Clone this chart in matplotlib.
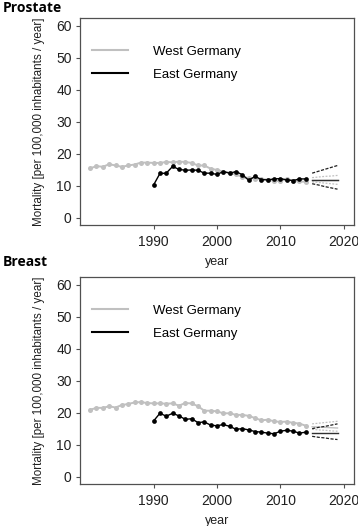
import matplotlib
matplotlib.use("Agg")
import matplotlib.pyplot as plt
from matplotlib.lines import Line2D
import numpy as np

plt.rcParams['font.family'] = ['Liberation Sans', 'DejaVu Sans']

years_west = list(range(1980, 2015))
years_east = list(range(1990, 2015))
years_proj = list(range(2015, 2020))

prostate_west = [15.4, 16.1, 15.9, 16.7, 16.3, 15.9, 16.3, 16.6, 17.2, 17.2,
                 17.1, 17.1, 17.4, 17.3, 17.5, 17.4, 17.1, 16.3, 16.3, 15.3,
                 14.9, 14.4, 14.0, 13.5, 12.7, 12.4, 12.2, 12.0, 11.9, 11.5,
                 11.4, 12.1, 11.5, 11.3, 11.2]
prostate_east = [10.2, 13.8, 13.9, 16.0, 15.1, 14.8, 14.9, 14.8, 13.9, 13.9,
                 13.5, 14.4, 13.9, 14.4, 13.4, 11.7, 12.9, 11.9, 11.8, 12.1,
                 12.2, 11.8, 11.6, 12.1, 12.1]
prostate_west_proj = [11.8, 11.8, 11.8, 11.8, 11.8]
prostate_west_lo = [11.2, 11.0, 10.8, 10.6, 10.4]
prostate_west_hi = [12.5, 12.7, 12.9, 13.0, 13.2]
prostate_east_proj = [11.9, 11.9, 11.9, 11.9, 11.9]
prostate_east_lo = [10.6, 10.2, 9.7, 9.3, 8.9]
prostate_east_hi = [13.9, 14.5, 15.1, 15.7, 16.3]

breast_west = [20.9, 21.5, 21.5, 22.0, 21.6, 22.4, 22.7, 23.2, 23.3, 23.0,
               22.9, 22.9, 22.8, 22.9, 22.2, 23.0, 22.9, 22.0, 20.6, 20.6,
               20.4, 19.8, 19.8, 19.3, 19.3, 19.0, 18.3, 17.6, 17.8, 17.3,
               17.1, 17.2, 16.8, 16.6, 15.9]
breast_east = [17.4, 19.8, 18.9, 19.8, 19.0, 17.9, 18.1, 16.9, 17.1, 16.1,
               15.9, 16.3, 15.7, 14.8, 15.0, 14.6, 14.1, 13.9, 13.6, 13.4,
               14.2, 14.5, 14.2, 13.6, 13.9]
breast_west_proj = [15.6, 15.5, 15.4, 15.3, 15.2]
breast_west_lo = [14.8, 14.6, 14.5, 14.3, 14.2]
breast_west_hi = [16.5, 16.7, 16.9, 17.1, 17.3]
breast_east_proj = [13.75, 13.75, 13.75, 13.75, 13.75]
breast_east_lo = [12.6, 12.3, 12.1, 11.8, 11.6]
breast_east_hi = [15.0, 15.4, 15.7, 16.1, 16.5]

panels = [
    ("Prostate", prostate_west, prostate_east, prostate_west_proj, prostate_west_lo,
     prostate_west_hi, prostate_east_proj, prostate_east_lo, prostate_east_hi),
    ("Breast", breast_west, breast_east, breast_west_proj, breast_west_lo,
     breast_west_hi, breast_east_proj, breast_east_lo, breast_east_hi),
]

legend_labels = ["West Germany", "East Germany"]
yticks = [0, 10, 20, 30, 40, 50, 60]
xticks = [1990, 2000, 2010, 2020]

W, H = 358, 526
fig = plt.figure(figsize=(W / 100, H / 100), dpi=100)

axes_px = [(80, 18, 354, 225), (80, 277, 354, 484)]
title_y = [8, 262]

gray = "#c0c0c0"
frame = "#505050"

for (name, w, e, wp, wlo, whi, ep, elo, ehi), (l, t, r, b), ty in zip(panels, axes_px, title_y):
    ax = fig.add_axes([l / W, 1 - b / H, (r - l) / W, (b - t) / H])
    ax.plot(years_west, w, color=gray, lw=1.4, marker='o', ms=3.6, mec='none', zorder=2)
    ax.plot(years_east, e, color='black', lw=1.0, marker='o', ms=3.4, mec='none', zorder=3)
    ax.plot(years_proj, wp, color=gray, lw=1.0, zorder=2)
    ax.plot(years_proj, wlo, color=gray, lw=0.9, ls=(0, (1.5, 1.2)), zorder=2)
    ax.plot(years_proj, whi, color=gray, lw=0.9, ls=(0, (1.5, 1.2)), zorder=2)
    ax.plot(years_proj, ep, color='#303030', lw=1.0, zorder=3)
    ax.plot(years_proj, elo, color='#202020', lw=0.9, ls=(0, (2.5, 1.2)), zorder=3)
    ax.plot(years_proj, ehi, color='#202020', lw=0.9, ls=(0, (2.5, 1.2)), zorder=3)

    ax.set_xlim(1978.4, 2021.6)
    ax.set_ylim(-2.3, 62.4)
    ax.set_xticks(xticks)
    ax.set_yticks(yticks)
    ax.tick_params(labelsize=10, length=3, width=0.8, color=frame, labelcolor='#202020')
    ax.tick_params(axis='x', pad=4.5)
    ax.tick_params(axis='y', pad=3)
    for s in ax.spines.values():
        s.set_color(frame)
        s.set_linewidth(0.9)
    ax.set_xlabel("year", fontsize=9, color='#202020', labelpad=5)
    ax.set_ylabel("Mortality [per 100,000 inhabitants / year]", fontsize=8.4,
                  color='#202020', labelpad=8)

    handles = [Line2D([], [], color=gray, lw=1.5), Line2D([], [], color='black', lw=1.5)]
    ax.legend(handles, legend_labels, loc='upper left', frameon=False, fontsize=9.5,
              handlelength=2.7, handletextpad=1.9, labelspacing=0.8,
              bbox_to_anchor=(0.015, 0.905), borderaxespad=0.2)

    fig.text(3 / W, 1 - ty / H, name, fontsize=10, fontweight='bold', va='center', ha='left',
             family=['Open Sans', 'DejaVu Sans'])

fig.savefig("out.png", dpi=100)
